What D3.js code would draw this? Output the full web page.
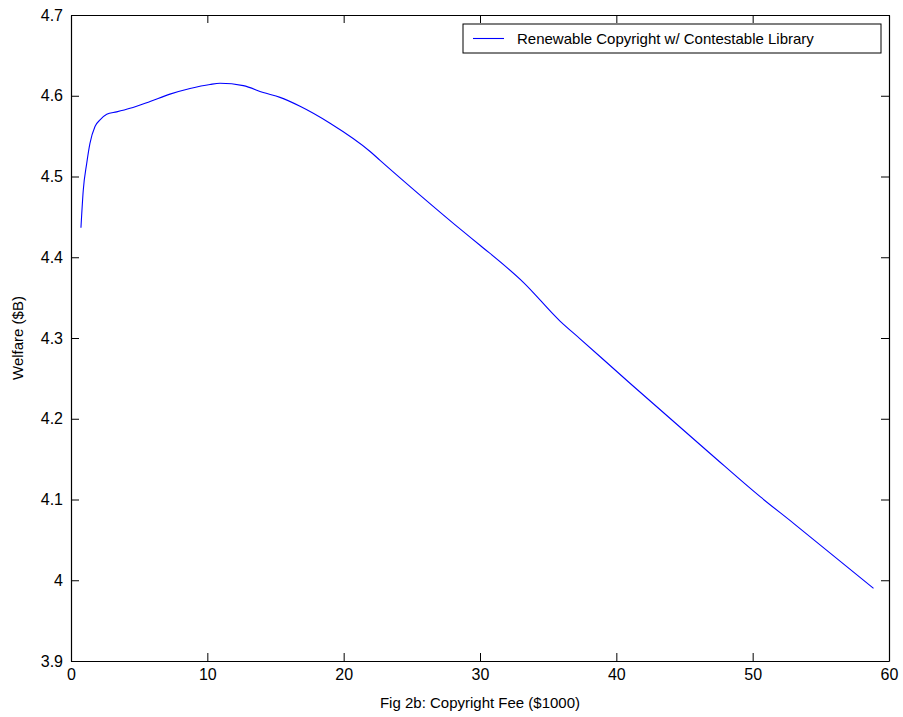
<!DOCTYPE html>
<html>
<head>
<meta charset="utf-8">
<script src="https://cdn.jsdelivr.net/npm/d3@7"></script>
<style>
body { margin: 0; background: #fff; }
text { font-family: "Liberation Sans", Arial, sans-serif; fill: #000; }
</style>
</head>
<body>
<div id="chart-area"></div>
<script>
// data
var fees = [0.73, 0.9, 1.15, 1.39, 1.76, 2.13, 2.62, 3.35, 4.33, 5.8, 7.26, 8.73, 10.2, 10.93, 12.64, 14.1, 15.33, 16.8, 19.0, 21.94, 22.67, 25.6, 28.78, 30.0, 33.18, 35.87, 37.34, 41.0, 46.88, 50.55, 53.0, 58.86];
var welfare = [4.4366, 4.483, 4.516, 4.541, 4.562, 4.570, 4.577, 4.580, 4.5845, 4.593, 4.602, 4.609, 4.614, 4.6154, 4.6125, 4.604, 4.598, 4.587, 4.566, 4.531, 4.520, 4.477, 4.4317, 4.4149, 4.369, 4.321, 4.299, 4.244, 4.157, 4.1035, 4.0705, 3.990];
var xTicks = [0, 10, 20, 30, 40, 50, 60];
var yTicks = [3.9, 4, 4.1, 4.2, 4.3, 4.4, 4.5, 4.6, 4.7];
var seriesName = "Renewable Copyright w/ Contestable Library";

var W = 903, H = 717;
var margin = {top: 15, right: 14, bottom: 56, left: 71};
var width = W - margin.left - margin.right,
	height = H - margin.top - margin.bottom;

var xScale = d3.scaleLinear().domain([0, 60]).range([0, width]);
var yScale = d3.scaleLinear().domain([3.9, 4.7]).range([height, 0]);

var data = fees.map(function(f, i) { return {fee: f, w: welfare[i]}; });

var svg = d3.select("#chart-area").append("svg")
	.attr("width", W)
	.attr("height", H)
	.append("g")
	.attr("transform", "translate(" + margin.left + "," + margin.top + ")");

var fmt = function(d) { return d3.format("")(+d.toFixed(1)); };

// axes, ticks pointing inward
var xAxis = d3.axisBottom(xScale).tickValues(xTicks).tickSizeInner(-8).tickSizeOuter(0).tickPadding(8);
var yAxis = d3.axisLeft(yScale).tickValues(yTicks).tickSizeInner(-8).tickSizeOuter(0).tickPadding(8).tickFormat(fmt);
var xTop = d3.axisTop(xScale).tickValues(xTicks).tickSizeInner(-8).tickSizeOuter(0).tickFormat("");
var yRight = d3.axisRight(yScale).tickValues(yTicks).tickSizeInner(-8).tickSizeOuter(0).tickFormat("");

svg.append("g").attr("class", "axis").attr("transform", "translate(0," + height + ")").call(xAxis);
svg.append("g").attr("class", "axis").call(yAxis);
svg.append("g").attr("class", "axis").call(xTop);
svg.append("g").attr("class", "axis").attr("transform", "translate(" + width + ",0)").call(yRight);

svg.selectAll(".axis path").attr("stroke", "#000").attr("stroke-width", 1.2);
svg.selectAll(".axis line").attr("stroke", "#000");
svg.selectAll(".axis text").style("font-size", "16px").attr("fill", "#000");

// line
var lineGenerator = d3.line()
	.curve(d3.curveMonotoneX)
	.x(function(d) { return xScale(d.fee); })
	.y(function(d) { return yScale(d.w); });

svg.append("path")
	.datum(data)
	.attr("fill", "none")
	.attr("stroke", "#0000ff")
	.attr("stroke-width", 1.1)
	.attr("d", lineGenerator);

// axis labels
svg.append("text")
	.attr("x", width / 2)
	.attr("y", height + 47)
	.style("text-anchor", "middle")
	.style("font-size", "15px")
	.text("Fig 2b: Copyright Fee ($1000)");

svg.append("text")
	.attr("transform", "rotate(-90)")
	.attr("x", -height / 2)
	.attr("y", -48)
	.style("text-anchor", "middle")
	.style("font-size", "15px")
	.text("Welfare ($B)");

// legend
var legend = svg.append("g").attr("transform", "translate(" + (463 - margin.left) + "," + (24 - margin.top) + ")");
legend.append("rect")
	.attr("width", 418).attr("height", 29)
	.attr("fill", "#fff").attr("stroke", "#000").attr("stroke-width", 1);
legend.append("line")
	.attr("x1", 10).attr("x2", 41).attr("y1", 14.5).attr("y2", 14.5)
	.attr("stroke", "#0000ff").attr("stroke-width", 1.1);
legend.append("text")
	.attr("x", 54).attr("y", 20)
	.style("font-size", "15px")
	.text(seriesName);
</script>
</body>
</html>
